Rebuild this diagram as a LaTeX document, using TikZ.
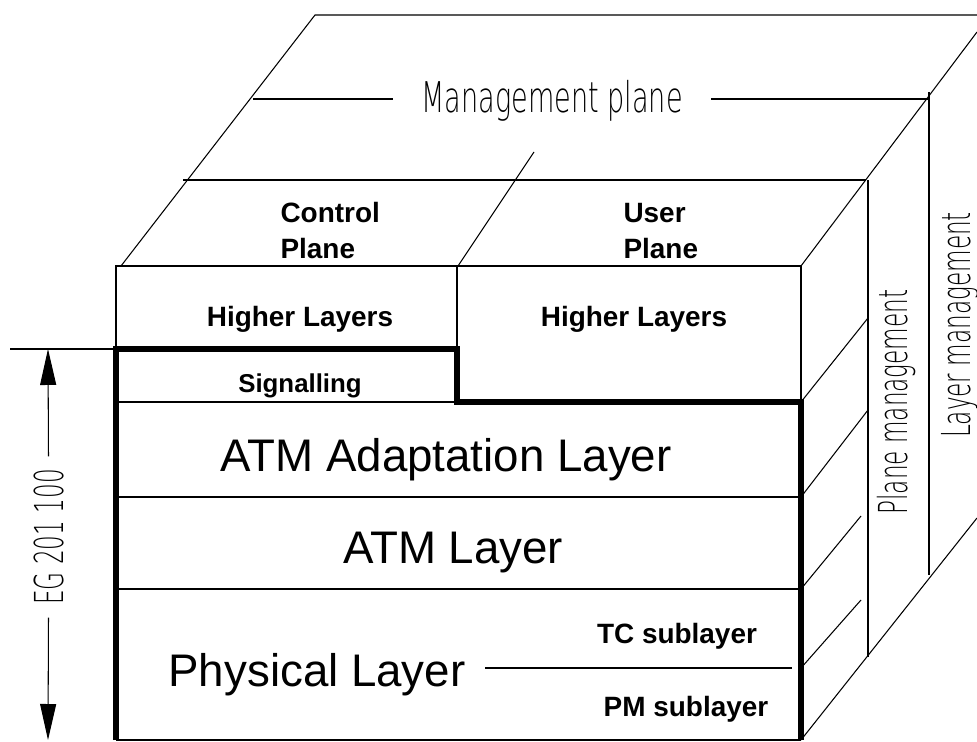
\documentclass[tikz,border=0pt]{standalone}
\usepackage{fontspec}
\setmainfont{Liberation Sans}
\newfontfamily\isofont[FakeStretch=0.58]{DejaVu Sans ExtraLight}
\newfontfamily\isowidefont[FakeStretch=0.64]{DejaVu Sans ExtraLight}
\usetikzlibrary{arrows.meta}

\begin{document}
\begin{tikzpicture}[x=0.02cm,y=-0.02cm,line width=0.6pt,
		thick line/.style={line width=3pt,line join=miter},
		small/.style={font=\fontsize{15.9}{21}\selectfont\bfseries,inner sep=0pt},
		big/.style={font=\fontsize{26}{31}\selectfont,inner sep=0pt},
		iso/.style={font=\fontsize{22.7}{27}\isofont,inner sep=0pt},
		dimtip/.tip={Triangle[length=7.2mm,width=3.2mm]}]
				\useasboundingbox (0,0) rectangle (977,742);
				\draw (121,266) -- (315,15) -- (977,15);
				\draw (183,180) -- (866,180);
				\draw (458,266) -- (534,152);
				\draw (801,266) -- (977,32);
				\draw (116,349) -- (116,266) -- (801,266) -- (801,402);
				\draw (457,266) -- (457,349);
				\draw (116,402) -- (457,402);
				\draw (116,497) -- (801,497);
				\draw (116,589) -- (801,589);
				\draw (116,740) -- (801,740);
				\draw[thick line] (116,740) -- (116,349) -- (457,349) -- (457,402) -- (801,402) -- (801,740);
				\draw (801,402) -- (868,318);
				\draw (801,497) -- (868,410);
				\draw (801,589) -- (861,516);
				\draw (801,668) -- (861,600);
				\draw (801,740) -- (977,518);
				\draw (868,180) -- (868,657);
				\draw (929,92) -- (929,575);
				\node[small,align=left,anchor=base west] (ctrl) at (280,259) {Control\\Plane};
				\node[small,align=left,anchor=base west] (user) at (623,259) {User\\Plane};
				\node[small,anchor=base] (hlc) at (300,327) {Higher Layers};
				\node[small,anchor=base] (hlu) at (634,327) {Higher Layers};
				\node[small,anchor=base,font=\fontsize{14.7}{18}\selectfont\bfseries] (sig) at (300,393) {Signalling};
				\node[big,anchor=base] (aal) at (446,472) {ATM Adaptation Layer};
				\node[big,anchor=base] (atm) at (453,564) {ATM Layer};
				\node[big,anchor=base,inner xsep=11pt] (phy) at (317,686) {Physical Layer};
				\node[small,anchor=base] (tc) at (677,643) {TC sublayer};
				\node[small,anchor=base] (pm) at (686,717) {PM sublayer};
				\coordinate (sub) at (792,668);
				\draw (phy.east |- sub) -- (sub);
				\node[iso,font=\fontsize{24.1}{29}\isowidefont,anchor=base,inner xsep=16pt] (mgmt) at (552,113) {Management plane};
				\coordinate (ml) at (253,99);
				\coordinate (mr) at (929,99);
				\draw (ml) -- (mgmt.west |- ml);
				\draw (mgmt.east |- mr) -- (mr);
				\node[iso,rotate=90,anchor=base] (pmgmt) at (907,402) {Plane management};
				\node[iso,rotate=90,anchor=base] (lmgmt) at (970,325) {Layer management};
				\node[iso,rotate=90,anchor=base,inner xsep=7pt] (eg) at (63,537) {EG 201 100};
				\coordinate (dtop) at (48,349);
				\coordinate (dbot) at (48,740);
				\draw (10,349) -- (116,349);
				\draw[-dimtip] (eg.east) -- (dtop);
				\draw[-dimtip] (eg.west) -- (dbot);
			\end{tikzpicture}
\end{document}
